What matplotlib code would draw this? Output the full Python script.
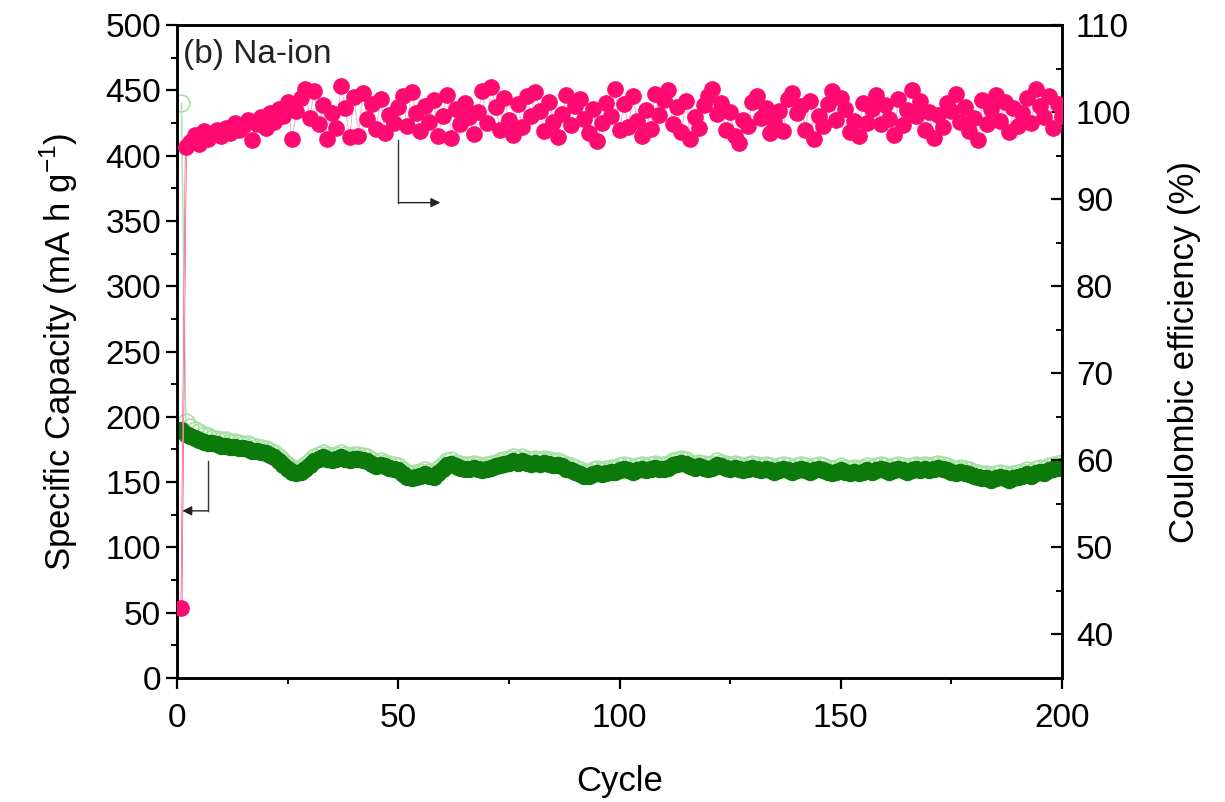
import matplotlib.pyplot as plt
from matplotlib.ticker import MultipleLocator

plt.rcParams.update({
    "font.family": ["Liberation Sans", "DejaVu Sans"],
    "font.size": 24,
    "axes.linewidth": 1.8,
})

# charge capacity (filled dark green), mA h g-1, cycles 1..200
charge = [
    190, 187, 185, 184, 182, 181, 180, 180, 179, 178,
    178, 177, 177, 176, 176, 175, 174, 174, 173, 172,
    171, 169, 166, 163, 160, 158, 157, 158, 160, 163,
    166, 168, 169, 168, 167, 168, 169, 168, 167, 168,
    168, 167, 166, 164, 162, 163, 162, 161, 160, 159,
    156, 154, 153, 154, 155, 156, 155, 154, 157, 160,
    163, 164, 162, 161, 160, 160, 161, 160, 159, 160,
    161, 162, 163, 164, 165, 166, 165, 166, 165, 164,
    165, 164, 165, 164, 163, 163, 162, 160, 159, 158,
    156, 155, 155, 156, 157, 156, 157, 158, 158, 159,
    160, 159, 158, 159, 160, 159, 160, 161, 160, 160,
    161, 163, 164, 165, 164, 162, 161, 162, 161, 160,
    161, 163, 162, 161, 160, 161, 160, 159, 160, 161,
    160, 159, 160, 159, 158, 159, 160, 159, 158, 159,
    160, 159, 158, 159, 160, 159, 158, 157, 158, 159,
    158, 157, 158, 157, 158, 159, 158, 159, 160, 159,
    158, 159, 160, 159, 158, 159, 160, 159, 160, 159,
    160, 161, 160, 159, 158, 157, 158, 157, 156, 155,
    154, 153, 153, 152, 153, 154, 153, 152, 153, 154,
    155, 156, 155, 157, 158, 157, 159, 160, 161, 162,
]

# discharge capacity (hollow light green)
discharge = [
    440, 196, 192, 190, 188, 186, 185, 184, 183, 182,
    182, 181, 181, 180, 179, 179, 178, 177, 176, 175,
    174, 172, 169, 166, 163, 161, 160, 161, 163, 166,
    169, 171, 172, 171, 170, 171, 172, 171, 170, 171,
    171, 170, 169, 167, 165, 166, 165, 164, 163, 162,
    159, 157, 156, 157, 158, 159, 158, 157, 160, 163,
    166, 167, 165, 164, 163, 163, 164, 163, 162, 163,
    164, 165, 166, 167, 168, 169, 168, 169, 168, 167,
    168, 167, 168, 167, 166, 166, 165, 163, 162, 161,
    159, 158, 158, 159, 160, 159, 160, 161, 161, 162,
    163, 162, 161, 162, 163, 162, 163, 164, 163, 163,
    164, 166, 167, 168, 167, 165, 164, 165, 164, 163,
    164, 166, 165, 164, 163, 164, 163, 162, 163, 164,
    163, 162, 163, 162, 161, 162, 163, 162, 161, 162,
    163, 162, 161, 162, 163, 162, 161, 160, 161, 162,
    161, 160, 161, 160, 161, 162, 161, 162, 163, 162,
    161, 162, 163, 162, 161, 162, 163, 162, 163, 162,
    163, 164, 163, 162, 161, 160, 161, 160, 159, 158,
    157, 156, 156, 155, 156, 157, 156, 155, 156, 157,
    158, 159, 158, 160, 161, 160, 162, 163, 164, 165,
]

# coulombic efficiency (%)
efficiency = [
    43.0, 96.0, 96.6, 97.4, 96.3, 97.8, 96.9, 97.5, 98.0, 97.2,
    98.2, 97.6, 98.7, 97.9, 98.4, 99.1, 96.8, 98.6, 99.4, 98.2,
    99.9, 98.9, 100.4, 99.5, 101.2, 96.9, 100.1, 101.6, 102.6, 99.3,
    102.4, 98.6, 100.8, 96.9, 99.9, 98.2, 103.0, 100.5, 97.1, 101.7,
    97.3, 102.2, 99.2, 100.9, 98.1, 101.5, 97.6, 99.7, 98.8, 100.6,
    101.9, 98.4, 102.3, 99.9, 97.8, 100.7, 98.9, 101.4, 97.2, 99.6,
    102.0, 97.0, 100.3, 98.6, 101.1, 99.4, 97.5, 100.0, 102.4, 98.7,
    102.9, 100.6, 98.0, 101.6, 99.1, 97.4, 100.9, 98.3, 101.9, 99.6,
    102.3, 100.1, 97.8, 101.2, 98.9, 97.1, 99.8, 102.0, 98.5, 100.7,
    101.5, 99.2, 97.6, 100.4, 96.7, 98.8, 101.0, 99.6, 102.6, 97.9,
    100.9, 98.3, 101.8, 99.0, 97.2, 100.2, 98.1, 102.1, 99.7, 101.4,
    102.5, 98.6, 100.6, 97.7, 101.3, 96.9, 99.4, 98.2, 100.8, 101.9,
    102.7, 99.8, 101.0, 97.9, 100.0, 97.3, 96.5, 99.1, 98.4, 101.2,
    101.8, 99.3, 100.5, 97.6, 98.9, 100.1, 97.8, 101.5, 102.2, 99.9,
    100.7, 98.0, 101.3, 96.9, 99.5, 98.4, 100.9, 102.4, 99.1, 101.6,
    100.3, 97.7, 99.0, 97.2, 101.0, 98.8, 100.4, 102.0, 98.6, 100.8,
    99.2, 97.4, 101.5, 98.5, 100.2, 102.5, 99.6, 101.3, 97.9, 100.0,
    97.0, 99.7, 98.3, 101.1, 100.1, 102.1, 98.9, 100.6, 97.8, 99.3,
    96.8, 101.4, 98.6, 100.3, 102.0, 99.0, 101.2, 97.7, 100.5, 98.4,
    99.9, 101.6, 98.7, 102.6, 100.7, 99.4, 101.8, 98.2, 100.9, 99.6,
]

cycles = list(range(1, len(charge) + 1))

fig = plt.figure(figsize=(12.25, 8.02), dpi=100)
ax = fig.add_axes([0.1445, 0.1546, 0.7225, 0.8142])
ax2 = ax.twinx()

green = "#0b7a0b"
light_green = "#a8e0a8"
pink = "#ff0a70"

ax.plot(cycles, discharge, color=light_green, lw=1.0, marker="o", ms=12,
        mfc="none", mec=light_green, mew=1.2, zorder=2)
ax.plot(cycles, charge, color=green, lw=1.0, marker="o", ms=11.5,
        mfc=green, mec=green, zorder=3)
ax2.plot(cycles, efficiency, color="#f4b6cf", lw=0.8, marker="o", ms=11,
         mfc=pink, mec=pink, zorder=3)
ax2.plot(cycles[:2], efficiency[:2], color=pink, lw=1.2, zorder=2)

ax.set_xlim(0, 200)
ax.set_ylim(0, 500)
ax2.set_ylim(35, 110)

ax.xaxis.set_major_locator(MultipleLocator(50))
ax.xaxis.set_minor_locator(MultipleLocator(25))
ax.yaxis.set_major_locator(MultipleLocator(50))
ax.yaxis.set_minor_locator(MultipleLocator(25))
ax2.yaxis.set_minor_locator(MultipleLocator(5))
ax2.set_yticks(range(40, 111, 10))

ax.tick_params(which="major", direction="out", length=8, width=1.6,
               top=False, right=False, labelsize=24)
ax.tick_params(axis="x", which="major", pad=10)
ax.tick_params(which="minor", direction="out", length=4.5, width=1.4,
               top=False, right=False)
ax2.tick_params(which="major", direction="in", length=8, width=1.6,
                labelsize=24, pad=10)
ax2.tick_params(which="minor", direction="in", length=4.5, width=1.4)

ax.set_xlabel("Cycle", fontsize=25, labelpad=22)
ax.set_ylabel(r"Specific Capacity (mA h g$^{\mathregular{-1}}$)", fontsize=25, labelpad=18)
ax2.set_ylabel("Coulombic efficiency (%)", fontsize=25, labelpad=26)

ax.text(0.007, 0.955, "(b) Na-ion", transform=ax.transAxes,
        ha="left", va="center", fontsize=24, color="#222222")

# guide arrows: CE -> right axis, capacity -> left axis
ax2.plot([50, 50], [96.8, 89.6], color="#333333", lw=1.0, zorder=4)
ax2.annotate("", xy=(59.5, 89.6), xytext=(50, 89.6),
             arrowprops=dict(arrowstyle="-|>", color="#222222", lw=1.0,
                             mutation_scale=14, shrinkA=0, shrinkB=0))
ax.plot([7, 7], [166, 128], color="#333333", lw=1.0, zorder=4)
ax.annotate("", xy=(1.2, 128), xytext=(7, 128),
            arrowprops=dict(arrowstyle="-|>", color="#222222", lw=1.0,
                            mutation_scale=14, shrinkA=0, shrinkB=0))

fig.savefig("out.png", dpi=100)
